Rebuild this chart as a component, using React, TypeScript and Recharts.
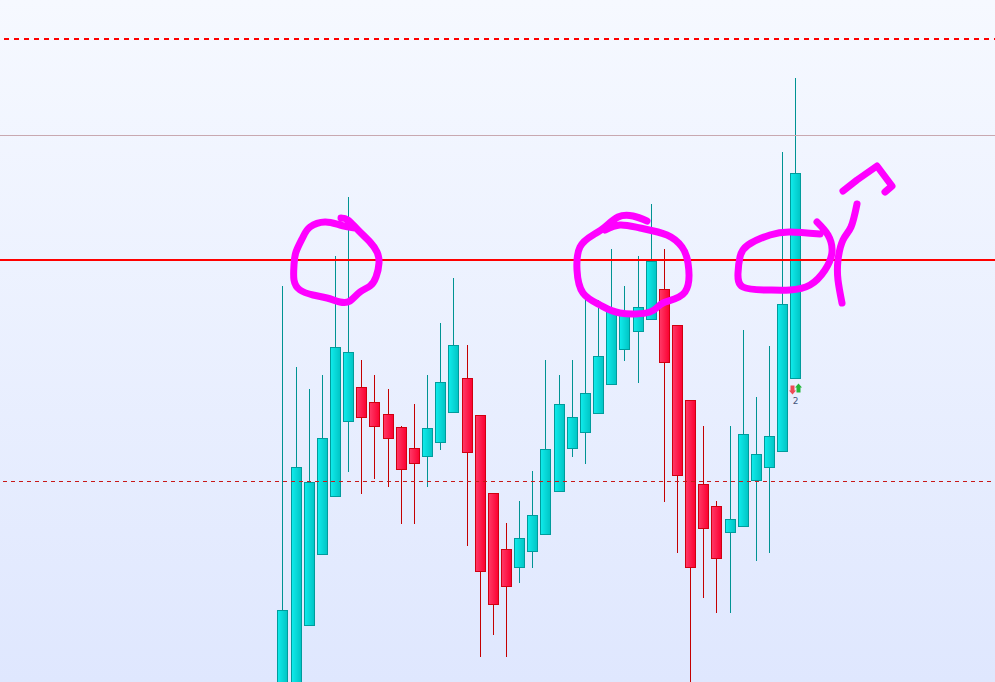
import React from 'react'
import {
  ComposedChart,
  Bar,
  Line,
  XAxis,
  YAxis,
  ReferenceLine,
  ReferenceDot,
} from 'recharts'

const WIDTH = 995
const HEIGHT = 682

// price per candle
const opens = [982, 982, 1056, 1127, 1185, 1260, 1295, 1280, 1268, 1255, 1234, 1225, 1239, 1269, 1304, 1267, 1189, 1133, 1114, 1130, 1147, 1190, 1233, 1249, 1268, 1297, 1332, 1350, 1362, 1393, 1357, 1282, 1198, 1176, 1149, 1155, 1201, 1214, 1230, 1303]
const closes = [1072, 1215, 1200, 1244, 1335, 1330, 1264, 1255, 1243, 1212, 1218, 1254, 1300, 1337, 1229, 1110, 1077, 1095, 1144, 1167, 1233, 1278, 1265, 1289, 1326, 1372, 1370, 1375, 1421, 1319, 1206, 1114, 1153, 1123, 1163, 1248, 1228, 1246, 1378, 1509]
const highs = [1396, 1315, 1293, 1307, 1426, 1485, 1322, 1307, 1293, 1256, 1278, 1307, 1359, 1404, 1337, 1267, 1189, 1159, 1181, 1211, 1322, 1307, 1322, 1382, 1382, 1433, 1396, 1426, 1478, 1433, 1357, 1282, 1256, 1181, 1256, 1352, 1285, 1336, 1530, 1604]
const lows = [982, 982, 1056, 1127, 1185, 1210, 1188, 1203, 1195, 1158, 1158, 1195, 1232, 1269, 1136, 1025, 1047, 1025, 1099, 1114, 1147, 1190, 1225, 1218, 1268, 1297, 1321, 1299, 1362, 1180, 1129, 982, 1084, 1069, 1069, 1155, 1121, 1129, 1230, 1303]

// horizontal levels
const upperDashLevel = 1643
const greyLevel = 1546.5
const solidLevel = 1422
const lowerDashLevel = 1200.5

// freehand marks on top of the chart, as [x, price]
const circleLeft = [[341, 1464], [348, 1462], [358, 1452], [370, 1440], [377, 1430], [379, 1419], [376, 1405], [370, 1396], [360, 1390], [350, 1381], [340, 1380], [327, 1384], [313, 1387], [300, 1392], [294, 1402], [294, 1417], [296, 1430], [303, 1445], [310, 1455], [325, 1460], [340, 1457], [355, 1454]]
const circleMiddle = [[647, 1461], [633, 1466], [618, 1465], [605, 1455], [593, 1447], [580, 1435], [577, 1412], [583, 1389], [600, 1377], [620, 1369], [650, 1370], [663, 1379], [685, 1390], [688, 1419], [682, 1435], [667, 1447], [640, 1454], [620, 1457], [605, 1452]]
const circleRight = [[817, 1460], [828, 1447], [832, 1430], [825, 1412], [810, 1397], [790, 1392], [767, 1392], [743, 1395], [738, 1409], [740, 1425], [748, 1437], [770, 1447], [790, 1450], [820, 1448]]
const slash = [[857, 1478], [851, 1455], [843, 1442], [838, 1422], [838, 1402], [842, 1379]]
const arrowHead = [[843, 1491], [857, 1502], [877, 1516], [892, 1496], [885, 1490]]
const inkStrokes = [circleLeft, circleMiddle, circleRight, slash, arrowHead]

const candles = opens.map((open, i) => ({
  t: i,
  open,
  close: closes[i],
  range: [lows[i], highs[i]],
}))

const CandleShape = (props: any) => {
  const { x, y, width, height, payload } = props
  const [low, high] = payload.range
  const perUnit = height / (high - low)
  const up = payload.close >= payload.open
  const bodyTop = Math.round(y + (high - Math.max(payload.open, payload.close)) * perUnit)
  const bodyBottom = Math.round(y + (high - Math.min(payload.open, payload.close)) * perUnit)
  const left = Math.round(x)
  const mid = left + 5.5
  return (
    <g>
      <line
        x1={mid}
        x2={mid}
        y1={y}
        y2={y + height}
        stroke={up ? '#009393' : '#c40000'}
        strokeWidth={1}
      />
      <rect
        x={left + 0.5}
        y={bodyTop + 0.5}
        width={width - 1}
        height={bodyBottom - bodyTop - 1}
        fill={up ? 'url(#bullFill)' : 'url(#bearFill)'}
        stroke={up ? '#009c9c' : '#d00010'}
        strokeWidth={1}
      />
    </g>
  )
}

const SignalArrow = (props: any) => {
  const { cx, cy, up } = props
  const s = up ? 1 : -1
  const pts = [
    [0, -4.5],
    [3.5, -0.5],
    [2, -0.5],
    [2, 4.5],
    [-2, 4.5],
    [-2, -0.5],
    [-3.5, -0.5],
  ]
    .map(([dx, dy]) => `${cx + dx},${cy + dy * s}`)
    .join(' ')
  return <polygon points={pts} fill={up ? '#22b83a' : '#ee4a55'} />
}

const SignalCount = (props: any) => (
  <text
    x={props.cx}
    y={props.cy}
    textAnchor="middle"
    dominantBaseline="central"
    fontFamily="DejaVu Sans"
    fontSize={9}
    fill="#44557a"
  >
    2
  </text>
)

export default function App() {
  document.body.style.margin = '0'
  return (
    <div
      style={{
        width: WIDTH,
        height: HEIGHT,
        overflow: 'hidden',
        background: 'linear-gradient(180deg, #f6f9ff 0%, #dfe7fe 100%)',
      }}
    >
      <ComposedChart
        width={WIDTH}
        height={HEIGHT}
        data={candles}
        margin={{ top: 0, right: 0, bottom: 0, left: 0 }}
      >
        <defs>
          <linearGradient id="bullFill" x1="0" y1="0" x2="1" y2="0">
            <stop offset="0%" stopColor="#10ecec" />
            <stop offset="100%" stopColor="#00c4c4" />
          </linearGradient>
          <linearGradient id="bearFill" x1="0" y1="0" x2="1" y2="0">
            <stop offset="0%" stopColor="#ff3a68" />
            <stop offset="100%" stopColor="#fb0030" />
          </linearGradient>
        </defs>
        <XAxis xAxisId="time" dataKey="t" type="number" domain={[-21.507, 54.13]} allowDataOverflow hide />
        <XAxis xAxisId="ink" dataKey="x" type="number" domain={[0, WIDTH]} allowDataOverflow hide />
        <YAxis type="number" domain={[1000, 1682]} allowDataOverflow hide />

        <ReferenceLine
          xAxisId="ink"
          segment={[{ x: 4, y: upperDashLevel }, { x: WIDTH, y: upperDashLevel }]}
          stroke="#ff0000"
          strokeWidth={2}
          strokeDasharray="5 5"
        />
        <ReferenceLine xAxisId="ink" y={greyLevel} stroke="#c8a8b0" strokeWidth={1} />
        <ReferenceLine
          xAxisId="ink"
          segment={[{ x: 3, y: lowerDashLevel }, { x: WIDTH, y: lowerDashLevel }]}
          stroke="#c81818"
          strokeWidth={1}
          strokeDasharray="4 4"
        />

        <Bar
          xAxisId="time"
          dataKey="range"
          barSize={11}
          shape={CandleShape}
          isAnimationActive={false}
        />

        <ReferenceLine xAxisId="ink" y={solidLevel} stroke="#ff0000" strokeWidth={2} />

        <ReferenceDot xAxisId="ink" x={792.5} y={1292} shape={(p: any) => <SignalArrow {...p} up={false} />} />
        <ReferenceDot xAxisId="ink" x={798.5} y={1294} shape={(p: any) => <SignalArrow {...p} up />} />
        <ReferenceDot xAxisId="ink" x={795.5} y={1281} shape={SignalCount} />

        {inkStrokes.map((stroke, i) => (
          <Line
            key={i}
            xAxisId="ink"
            data={stroke.map(([x, p]) => ({ x, p }))}
            dataKey="p"
            type={stroke === arrowHead ? 'linear' : 'natural'}
            stroke="#ff00ff"
            strokeWidth={7}
            strokeLinecap="round"
            strokeLinejoin="round"
            dot={false}
            activeDot={false}
            isAnimationActive={false}
          />
        ))}
      </ComposedChart>
    </div>
  )
}
